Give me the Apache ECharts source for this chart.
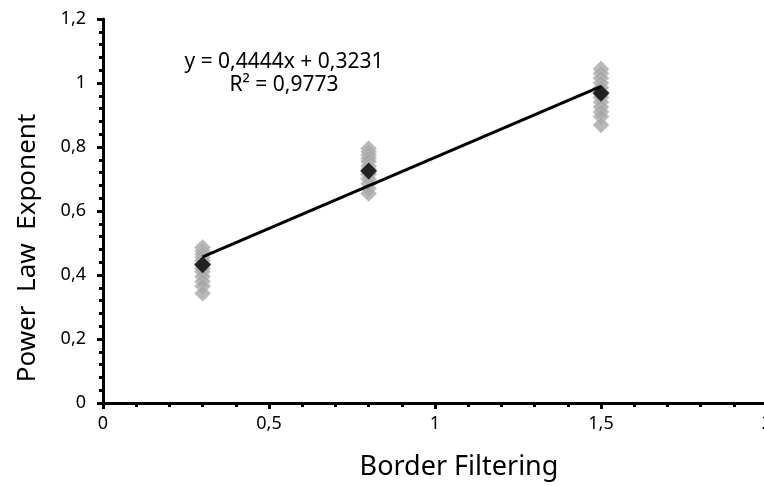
<!DOCTYPE html>
<html>
<head>
<meta charset="utf-8">
<script src="https://cdn.jsdelivr.net/npm/echarts@6/dist/echarts.min.js"></script>
<style>html,body{margin:0;padding:0;background:#fff}#c{width:764px;height:486px}</style>
</head>
<body>
<div id="c"></div>
<script>
// Data
var groupX = [0.3, 0.8, 1.5];
var pointsAt03 = [0.486, 0.475, 0.465, 0.455, 0.445, 0.435, 0.42, 0.41, 0.395, 0.38, 0.365, 0.343];
var pointsAt08 = [0.795, 0.785, 0.775, 0.765, 0.755, 0.74, 0.73, 0.715, 0.70, 0.685, 0.67, 0.655];
var pointsAt15 = [1.044, 1.03, 1.015, 1.0, 0.985, 0.97, 0.955, 0.94, 0.925, 0.91, 0.895, 0.869];
var meanValues = [0.432, 0.725, 0.968];
var trendSlope = 0.4444;
var trendIntercept = 0.3231;
var trendRange = [0.3, 1.5];
var xTicks = [0, 0.5, 1, 1.5, 2];
var yTicks = [0, 0.2, 0.4, 0.6, 0.8, 1, 1.2];
var equationText = 'y = 0,4444x + 0,3231';
var r2Text = 'R\u00B2 = 0,9773';
var xTitle = 'Border Filtering';
var yTitle = 'Power  Law  Exponent';

var FONT = 'Noto Sans';
function fmt(v){ return String(v).replace('.', ','); }

var grayData = [];
[pointsAt03, pointsAt08, pointsAt15].forEach(function(arr, i){
  arr.forEach(function(v){ grayData.push([groupX[i], v]); });
});
var meanData = groupX.map(function(x, i){ return [x, meanValues[i]]; });
var trendData = trendRange.map(function(x){ return [x, trendSlope * x + trendIntercept]; });

var chart = echarts.init(document.getElementById('c'), null, {renderer: 'canvas'});
var axisCommon = {
  axisLine: {show: true, onZero: false, lineStyle: {color: '#000', width: 3}},
  axisTick: {show: true, inside: false, length: 6, lineStyle: {color: '#000', width: 3}},
  minorTick: {show: true, splitNumber: 5, length: 4, lineStyle: {color: '#000', width: 3}},
  splitLine: {show: false},
  minorSplitLine: {show: false}
};
chart.setOption({
  animation: false,
  backgroundColor: '#fff',
  grid: {left: 103, top: 19, width: 664, height: 384, outerBoundsMode: 'none', containLabel: false},
  xAxis: Object.assign({
    type: 'value', min: xTicks[0], max: xTicks[xTicks.length-1], interval: 0.5,
    axisLabel: {color: '#000', fontFamily: FONT, fontSize: 18, margin: 12, formatter: fmt}
  }, axisCommon),
  yAxis: Object.assign({
    type: 'value', min: yTicks[0], max: yTicks[yTicks.length-1], interval: 0.2,
    axisLabel: {color: '#000', fontFamily: FONT, fontSize: 18, margin: 17, formatter: fmt}
  }, axisCommon),
  series: [
    {type: 'scatter', data: grayData, symbol: 'diamond', symbolSize: 16,
     itemStyle: {color: '#a6a6a6', borderColor: '#c4c4c4', borderWidth: 1}, z: 2},
    {type: 'line', data: trendData, symbol: 'none', lineStyle: {color: '#000', width: 3}, z: 3},
    {type: 'scatter', data: meanData, symbol: 'diamond', symbolSize: 17,
     itemStyle: {color: '#000'}, z: 4}
  ],
  graphic: [
    {type: 'text', x: 284, y: 62, style: {text: equationText, fill: '#000', font: '21px "' + FONT + '"', textAlign: 'center', textVerticalAlign: 'middle'}},
    {type: 'text', x: 284, y: 85, style: {text: r2Text, fill: '#000', font: '21px "' + FONT + '"', textAlign: 'center', textVerticalAlign: 'middle'}},
    {type: 'text', x: 459, y: 467, style: {text: xTitle, fill: '#000', font: '27px "' + FONT + '"', textAlign: 'center', textVerticalAlign: 'middle'}},
    {type: 'text', x: 28, y: 248, rotation: Math.PI / 2, style: {text: yTitle, fill: '#000', font: '26px "' + FONT + '"', textAlign: 'center', textVerticalAlign: 'middle'}}
  ]
});
</script>
</body>
</html>
